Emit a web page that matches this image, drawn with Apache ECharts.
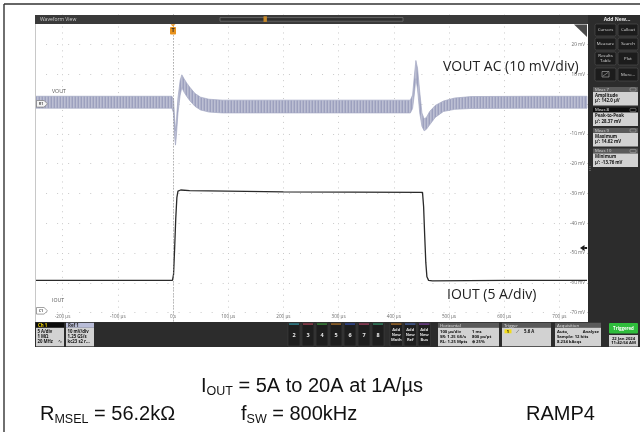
<!DOCTYPE html>
<html>
<head>
<meta charset="utf-8">
<title>Load transient</title>
<script src="https://cdn.jsdelivr.net/npm/echarts@6.0.0/dist/echarts.min.js"></script>
<style>
html,body{margin:0;padding:0;background:#ffffff;}
#chart{width:640px;height:432px;}
</style>
</head>
<body>
<div id="chart"></div>
<script>
// ---------------- data ----------------
// time axis tick labels (µs)
const timeTicks = [-200, -100, 0, 100, 200, 300, 400, 500, 600, 700];
const timeTickText = ['-200 µs', '-100 µs', '0 s', '100 µs', '200 µs', '300 µs', '400 µs', '500 µs', '600 µs', '700 µs'];
// VOUT AC axis tick labels (mV)
const voltTicks = [20, 10, -10, -20, -30, -40, -50, -60, -70];
const voltTickText = ['20 mV', '10 mV', '-10 mV', '-20 mV', '-30 mV', '-40 mV', '-50 mV', '-60 mV', '-70 mV'];

// VOUT AC trace (noise envelope), time in µs, values in mV
const voutTime  = [-250, -100, -2, 1, 3, 4.5, 6, 9, 13, 16, 20, 25, 31, 40, 50, 65, 90, 150, 300, 430, 434, 437, 440, 443, 447, 451, 455, 459, 465, 475, 490, 510, 540, 650, 750];
const voutUpper = [2.6, 2.6, 2.6, 1.5, -5, -9, -6, 2, 8, 9.8, 8.5, 7, 5.5, 3.5, 2.3, 1.6, 1.3, 1.3, 1.3, 1.3, 3, 9, 14.6, 12, 4, -3, -5, -4.5, -2.5, -0.5, 1, 2, 2.5, 2.6, 2.6];
const voutLower = [-1.4, -1.4, -1.4, -3, -11, -13.8, -11, -3, 3, 5.5, 4, 2.5, 1, -0.8, -2, -2.7, -3, -3, -3, -3, -1.5, 3, 8.5, 5, -3, -7.5, -9, -8.5, -7, -4.5, -2.5, -1.8, -1.5, -1.4, -1.4];

// IOUT trace, time in µs, current in A
const ioutTime = [-250, -100, -1, 1, 3, 5, 7, 9, 14, 30, 200, 452, 454, 456, 458, 460, 463, 470, 600, 750];
const ioutAmps = [5.0, 5.0, 5.0, 6.0, 10.5, 15.5, 19.0, 20.1, 20.3, 20.2, 20.0, 19.9, 17.5, 12.5, 8.0, 5.6, 5.0, 4.9, 5.0, 5.0];

// measurement panel
const measIds    = ['Meas 7', 'Meas 8', 'Meas 9', 'Meas 10'];
const measNames  = ['Amplitude', 'Peak-to-Peak', 'Maximum', 'Minimum'];
const measValues = ["µ': 142.0 µV", "µ': 28.37 mV", "µ': 14.62 mV", "µ': -13.76 mV"];

// channel buttons
const chanButtons = ['2', '3', '4', '5', '6', '7', '8'];
const chanColors  = ['#39c3d6', '#e0506a', '#48c048', '#e8922c', '#3a62e0', '#e0507e', '#3cc08a'];

// ---------------- chart ----------------
const chart = echarts.init(document.getElementById('chart'));
const UI = '"Open Sans", "Liberation Sans", sans-serif';
const AR = '"Liberation Sans", Arial, sans-serif';
const G = [];
function rect(x, y, w, h, fill, o) {
  o = o || {};
  G.push({type: 'rect', silent: true, z: o.z || 60,
    shape: {x: x, y: y, width: w, height: h, r: o.r || 0},
    style: {fill: fill, stroke: o.stroke || null, lineWidth: o.lw || 0}});
}
function txt(x, y, s, o) {
  o = o || {};
  G.push({type: 'text', silent: true, z: o.z || 65, x: x, y: y,
    style: {text: s, fill: o.color || '#e6e6e6',
      font: (o.bold ? 'bold ' : '') + (o.size || 4.5) + 'px ' + (o.family || UI),
      align: o.align || 'left', verticalAlign: o.va || 'middle',
      textAlign: o.align || 'left', textVerticalAlign: o.va || 'middle',
      lineHeight: o.lh || undefined}});
}
function poly(points, fill, o) {
  o = o || {};
  G.push({type: 'polygon', silent: true, z: o.z || 62, shape: {points: points},
    style: {fill: fill, stroke: o.stroke || null, lineWidth: o.lw || 0}});
}
function seg(x1, y1, x2, y2, stroke, w, o) {
  o = o || {};
  G.push({type: 'line', silent: true, z: o.z || 62, shape: {x1: x1, y1: y1, x2: x2, y2: y2},
    style: {stroke: stroke, lineWidth: w, lineDash: o.dash || null}});
}

// striated fill that imitates the dense switching ripple of the VOUT trace
const stripe = document.createElement('canvas');
stripe.width = 3; stripe.height = 4;
(function () {
  const c = stripe.getContext('2d');
  c.fillStyle = '#bcbfd3'; c.fillRect(0, 0, 3, 4);
  c.fillStyle = '#9ca0be'; c.fillRect(0, 0, 1, 4);
  c.fillStyle = '#aeb1c9'; c.fillRect(2, 0, 1, 4);
})();

// outer frame of the figure
seg(4, 4, 640, 4, '#333333', 1.4, {z: 90});
seg(4, 4, 4, 432, '#333333', 1.4, {z: 90});

// cover the area left of the scope screen (grid extends half a division)
rect(6, 8, 29, 340, '#ffffff', {z: 50});
seg(35.5, 24, 35.5, 322, '#c8c8c8', 1, {z: 51});

// title bar
rect(35, 15, 553, 9, '#3a3a3a');
txt(40, 19.6, 'Waveform View', {size: 5, color: '#d0d0d0'});
rect(220, 17.6, 183, 3.6, '#2e2e2e', {stroke: '#858585', lw: 0.6, z: 61});
rect(263.5, 16.3, 3.4, 5.6, '#c98a2a', {z: 62});

// right side panel
rect(588, 15, 52, 332, '#2c2c2c');
txt(617, 19.5, 'Add New...', {size: 5, bold: true, align: 'center'});
const btns = [
  [595, 24, 21, 12, 'Cursors'], [618, 24, 20, 12, 'Callout'],
  [595, 38, 21, 12, 'Measure'], [618, 38, 20, 12, 'Search'],
  [595, 52, 21, 13, 'Results\nTable'], [618, 52, 20, 13, 'Plot'],
  [595, 68, 21, 13, ''], [618, 68, 20, 13, 'More...']
];
btns.forEach(function (b) {
  rect(b[0], b[1], b[2], b[3], '#1c1c1c', {stroke: '#555555', lw: 0.6, r: 1.5, z: 61});
  if (b[4]) txt(b[0] + b[2] / 2, b[1] + b[3] / 2, b[4], {size: 4.3, align: 'center', color: '#dcdcdc', lh: 5});
});
// icon button
rect(602, 71.5, 7, 5.5, null, {stroke: '#cfcfcf', lw: 0.5, z: 62});
seg(603, 76, 608, 72.5, '#cfcfcf', 0.5, {z: 63});

const measY = [87, 107.5, 128, 148.5];
measIds.forEach(function (m, i) {
  const y = measY[i];
  rect(593, y, 45, 5, i === 1 ? '#0e0e0e' : '#5a5a5a', {z: 61});
  txt(595, y + 2.6, m, {size: 4.2, color: i === 1 ? '#f0f0f0' : '#d8d8d8'});
  rect(630, y + 0.9, 6, 3.2, null, {stroke: '#cfcfcf', lw: 0.4, r: 1, z: 62});
  rect(593, y + 5, 45, 13.5, '#d2d2d2', {z: 61});
  txt(595, y + 8.6, measNames[i], {size: 4.4, bold: true, color: '#111'});
  txt(595, y + 14.2, measValues[i], {size: 4.4, bold: true, color: '#111'});
});
txt(590, 168, '⋮', {size: 6, color: '#aaaaaa', align: 'center'});

// bottom panel
rect(35, 322, 605, 25, '#2c2c2c');
// Ch 1 badge
rect(36, 322.8, 28, 5, '#0c0c0c', {z: 61});
txt(38, 325.4, 'Ch 1', {size: 4.4, bold: true, color: '#f2d400'});
rect(36, 327.8, 28, 18.5, '#d2d2d2', {z: 61});
txt(37.5, 332, '5 A/div', {size: 4.3, bold: true, color: '#111'});
txt(37.5, 337, '1 MΩ', {size: 4.3, bold: true, color: '#111'});
txt(37.5, 342, '20 MHz', {size: 4.3, bold: true, color: '#111'});
txt(58, 342, '∿', {size: 4.5, color: '#111'});
// Ref 1 badge
rect(66, 322.8, 28, 5, '#b9bdd8', {z: 61});
txt(68, 325.4, 'Ref 1', {size: 4.4, bold: true, color: '#222'});
rect(66, 327.8, 28, 18.5, '#d2d2d2', {z: 61});
txt(67.5, 332, '10 mV/div', {size: 4.3, bold: true, color: '#111'});
txt(67.5, 337, '1.25 GS/s', {size: 4.3, bold: true, color: '#111'});
txt(67.5, 342, 'kc23 s2 r...', {size: 4.3, bold: true, color: '#111'});
// channel buttons
chanButtons.forEach(function (c, i) {
  const x = 288 + i * 14;
  rect(x, 323, 12, 23, '#1e1e1e', {stroke: '#444444', lw: 0.5, z: 61});
  rect(x + 1, 323.6, 10, 0.9, chanColors[i], {z: 62});
  txt(x + 6, 335, c, {size: 5.5, bold: true, align: 'center', color: '#e8e8e8'});
});
const addBtns = [['Math', '#e8922c'], ['Ref', '#5d84e0'], ['Bus', '#a052d0']];
addBtns.forEach(function (a, i) {
  const x = 390 + i * 14;
  rect(x, 323, 12.5, 23, '#1e1e1e', {stroke: '#444444', lw: 0.5, z: 61});
  rect(x + 1, 323.6, 10.5, 0.9, a[1], {z: 62});
  txt(x + 6.25, 335, 'Add\nNew\n' + a[0], {size: 4, bold: true, align: 'center', color: '#e0e0e0', lh: 5});
});
// Horizontal box
rect(438, 322.8, 61, 5, '#5a5a5a', {z: 61});
txt(440, 325.4, 'Horizontal', {size: 4.3, color: '#e0e0e0'});
rect(438, 327.8, 61, 18.5, '#d2d2d2', {z: 61});
txt(440, 331.5, '100 µs/div', {size: 4.2, bold: true, color: '#111'});
txt(472, 331.5, '1 ms', {size: 4.2, bold: true, color: '#111'});
txt(440, 336.5, 'SR: 1.25 GS/s', {size: 4.2, bold: true, color: '#111'});
txt(472, 336.5, '800 ps/pt', {size: 4.2, bold: true, color: '#111'});
txt(440, 341.5, 'RL: 1.25 Mpts', {size: 4.2, bold: true, color: '#111'});
txt(472, 341.5, '⊕ 25%', {size: 4.2, bold: true, color: '#111'});
// Trigger box
rect(502, 322.8, 49, 5, '#5a5a5a', {z: 61});
txt(504, 325.4, 'Trigger', {size: 4.3, color: '#e0e0e0'});
rect(502, 327.8, 49, 18.5, '#d2d2d2', {z: 61});
rect(504.5, 329.3, 7, 4, '#f2dc1a', {z: 62});
txt(508, 331.4, '1', {size: 4, bold: true, align: 'center', color: '#111'});
txt(516, 331.4, '⟋', {size: 4.5, color: '#111'});
txt(524, 331.4, '5.6 A', {size: 4.3, bold: true, color: '#111'});
// Acquisition box
rect(555, 322.8, 46, 5, '#5a5a5a', {z: 61});
txt(557, 325.4, 'Acquisition', {size: 4.3, color: '#e0e0e0'});
rect(555, 327.8, 46, 18.5, '#d2d2d2', {z: 61});
txt(557, 331.5, 'Auto,', {size: 4.2, bold: true, color: '#111'});
txt(599, 331.5, 'Analyze', {size: 4.2, bold: true, color: '#111', align: 'right'});
txt(557, 336.5, 'Sample: 12 bits', {size: 4.2, bold: true, color: '#111'});
txt(557, 341.5, '8.234 kAcqs', {size: 4.2, bold: true, color: '#111'});
// Triggered + date
rect(609, 323, 29, 10.5, '#2fbd3c', {z: 61, r: 1});
txt(623.5, 328.3, 'Triggered', {size: 4.4, bold: true, align: 'center', color: '#ffffff'});
rect(609, 335, 29, 11.5, '#d2d2d2', {z: 61});
txt(623.5, 338.4, '22 Jan 2024', {size: 4.2, bold: true, align: 'center', color: '#111'});
txt(623.5, 343.2, '11:42:54 AM', {size: 4.2, bold: true, align: 'center', color: '#111'});

// markers inside the plot
poly([[170.5, 24.2], [175.5, 24.2], [173, 26.6]], '#e8921e', {z: 70});
rect(170, 27, 6, 7.5, '#e8921e', {z: 70, r: 0.8});
txt(173, 30.9, 'T', {size: 5.5, bold: true, align: 'center', color: '#2a2a2a', z: 71});
poly([[574, 24.5], [587, 24.5], [587, 37]], '#4a4a4a', {z: 70});
poly([[580, 248], [584.5, 245], [584.5, 251]], '#1a1a1a', {z: 70});
rect(584.3, 247, 2.8, 2, '#1a1a1a', {z: 70});
poly([[36.5, 100.5], [44, 100.5], [47.5, 103.8], [44, 107.1], [36.5, 107.1]], '#f4f4f4', {stroke: '#7a7a7a', lw: 0.7, z: 70});
txt(41, 103.9, 'R1', {size: 3.8, bold: true, align: 'center', color: '#555', z: 71});
poly([[36.5, 307.5], [44, 307.5], [47.5, 310.8], [44, 314.1], [36.5, 314.1]], '#ffffff', {stroke: '#7a7a7a', lw: 0.7, z: 70});
txt(41, 310.9, 'C1', {size: 3.8, bold: true, align: 'center', color: '#555', z: 71});
txt(52, 91.5, 'VOUT', {size: 5.2, color: '#555', z: 71});
txt(52, 301, 'IOUT', {size: 5.2, color: '#555', z: 71});
txt(443, 67, 'VOUT AC (10 mV/div)', {size: 14, color: '#222', z: 71});
txt(447, 295, 'IOUT (5 A/div)', {size: 14, color: '#222', z: 71});

// caption text below the screenshot
const capRich = {
  a: {fontSize: 20, fontFamily: AR, fill: '#111', lineHeight: 24},
  s: {fontSize: 12.5, fontFamily: AR, fill: '#111', lineHeight: 12, padding: [12, 0, 0, 0]}
};
function cap(x, y, s) {
  G.push({type: 'text', silent: true, z: 80, x: x, y: y,
    style: {text: s, rich: capRich, align: 'left', verticalAlign: 'middle',
      textAlign: 'left', textVerticalAlign: 'middle'}});
}
cap(201, 386, '{a|I}{s|OUT}{a| = 5A to 20A at 1A/µs}');
cap(40, 414, '{a|R}{s|MSEL}{a| = 56.2kΩ}');
cap(241, 414, '{a|f}{s|SW}{a| = 800kHz}');
cap(526, 414, '{a|RAMP4}');

// grid geometry: 1 division = 55.2 px (100 µs) horizontally, 29.8 px (10 mV) vertically
const option = {
  animation: false,
  backgroundColor: '#ffffff',
  grid: {left: 7.4, top: 14.6, width: 607.2, height: 327.8, containLabel: false},
  xAxis: {
    type: 'value', min: -300, max: 800, interval: 100, offset: -20.4,
    axisLine: {show: false}, axisTick: {show: false},
    axisLabel: {inside: true, margin: 2.5, fontSize: 4.6, color: '#6a6a6a', fontFamily: UI,
      formatter: function (v) { const i = timeTicks.indexOf(v); return i >= 0 ? timeTickText[i] : ''; }},
    splitLine: {show: true, showMinLine: false, showMaxLine: false,
      lineStyle: {color: '#c9c9c9', width: 1, type: [1, 4.96]}}
  },
  yAxis: [{
    type: 'value', position: 'right', min: -80, max: 30, interval: 10, offset: -27.6,
    axisLine: {show: false}, axisTick: {show: false},
    axisLabel: {inside: true, margin: 2, fontSize: 4.6, color: '#6a6a6a', fontFamily: UI,
      formatter: function (v) { const i = voltTicks.indexOf(v); return i >= 0 ? voltTickText[i] : ''; }},
    splitLine: {show: true, showMinLine: false, showMaxLine: false,
      lineStyle: {color: '#c9c9c9', width: 1, type: [1, 10.04], dashOffset: 5.5}}
  }, {
    type: 'value', min: -5.5, max: 50, show: false, splitLine: {show: false}
  }],
  series: [{
    name: 'VOUT AC',
    type: 'custom', xAxisIndex: 0, yAxisIndex: 0, z: 3, silent: true,
    data: [[voutTime[0], voutUpper[0]]],
    renderItem: function (params, api) {
      const pts = [];
      for (let i = 0; i < voutTime.length; i++) pts.push(api.coord([voutTime[i], voutUpper[i]]));
      for (let i = voutTime.length - 1; i >= 0; i--) pts.push(api.coord([voutTime[i], voutLower[i]]));
      return {type: 'polygon', shape: {points: pts},
        style: {fill: {image: stripe, repeat: 'repeat'}, stroke: '#a3a7c3', lineWidth: 0.7}};
    }
  }, {
    name: 'IOUT',
    type: 'line', xAxisIndex: 0, yAxisIndex: 1, z: 4, silent: true,
    showSymbol: false, symbol: 'none',
    data: ioutTime.map(function (t, i) { return [t, ioutAmps[i]]; }),
    lineStyle: {color: '#2a2a2a', width: 1.3},
    markLine: {
      silent: true, symbol: 'none', label: {show: false},
      lineStyle: {color: '#8c8c8c', width: 1, type: [1, 2]},
      data: [{xAxis: 0}]
    }
  }],
  graphic: {elements: G}
};
chart.setOption(option);
</script>
</body>
</html>
